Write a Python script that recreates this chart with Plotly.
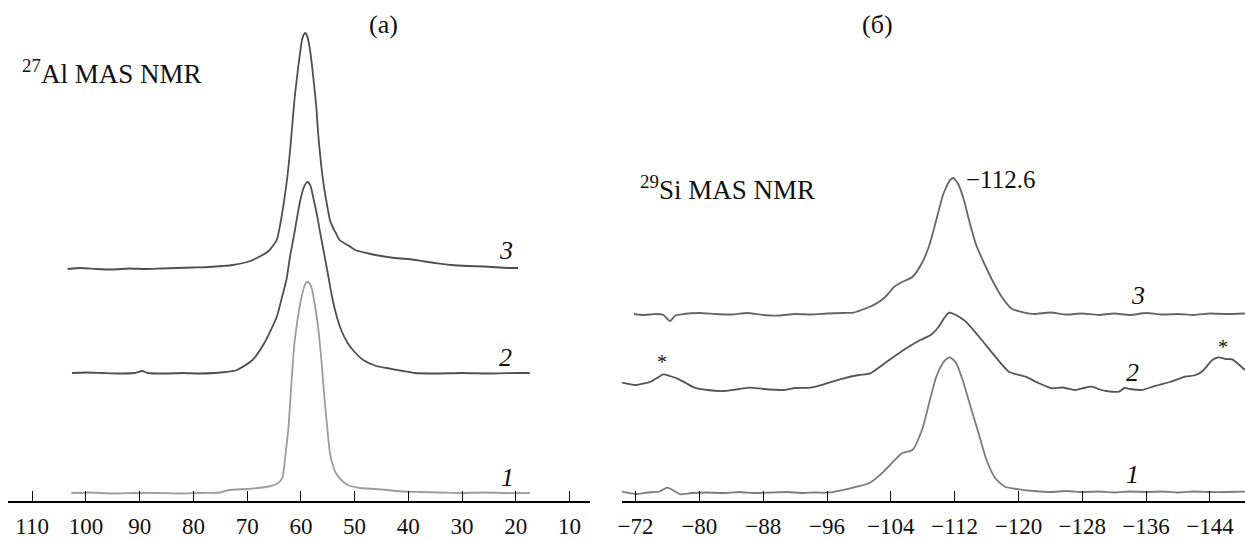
import plotly.graph_objects as go

# ---------------- (a) 27Al MAS NMR ----------------
al1_ppm = [102.7, 99, 95, 91, 87, 83, 79, 75, 73.4, 70, 68, 66, 64.5, 63.9, 63.4, 62.9, 62.3, 61.8, 61.2, 60.6,
           60.1, 59.4, 59.0, 58.7, 58.3, 57.9, 57.4, 56.8, 56.2, 55.7, 55.1, 54.6, 54.0, 53.5, 52.3, 51.3, 49,
           46.2, 44, 41, 38, 34, 30, 26, 22, 17.4]
al1_int = [8, 8.5, 7.5, 8, 8, 7.5, 8, 8.5, 11, 12, 13, 14.5, 17, 19.5, 24, 45, 74, 115, 158, 182,
           198, 214, 218.5, 219, 217, 211, 196, 174, 142, 108, 74, 48, 35, 28, 20, 16, 13,
           12, 11, 9.5, 9, 8.5, 8, 8.5, 8, 8]

al2_ppm = [102.6, 100, 97, 94, 91, 89.5, 88.5, 85, 82, 79, 76, 74, 71.9, 69, 66.8, 64.5, 63.6, 62.7, 62.0,
           61.2, 60.6, 60.1, 59.5, 59.0, 58.7, 58.2, 57.6, 57.0, 56.4, 55.7, 55, 54.3, 53.5, 52.5, 51.3, 50,
           48.4, 46, 44, 41, 38.8, 35, 30, 25, 20, 17.4]
al2_int = [128, 128.5, 128, 127.5, 128, 130, 128, 127.5, 128, 127.5, 128, 129, 131, 141, 158, 184, 202, 221, 245,
           268, 287, 301, 313, 318, 319, 315, 301, 286, 268, 248, 228, 207, 188, 171, 158, 149,
           141, 135, 133, 130, 128, 127.5, 128, 127.5, 128, 128]

al3_ppm = [103.4, 101, 98, 95, 92, 89, 86, 83, 80, 77, 74.5, 72.7, 70, 68.2, 66, 64.5, 63.8, 63.1, 62.5, 62.0,
           61.6, 61.2, 60.8, 60.5, 60.1, 59.8, 59.5, 59.2, 58.9, 58.6, 58.3, 57.9, 57.5, 57.1, 56.8, 56.3,
           55.7, 55.1, 54.6, 54.0, 53.5, 52.8, 51, 49.9, 47, 45, 42.5, 40, 37, 35, 32, 29, 26, 23, 21, 19.6]
al3_int = [232, 233, 232, 231.5, 232.5, 232, 232.5, 233, 233.5, 234, 235, 236, 239, 243, 250, 261, 278, 301, 325, 351,
           376, 401, 420, 434, 450, 461, 466, 468, 466, 460, 451, 434, 414, 392, 368, 340,
           314, 295, 281, 273, 268, 261, 255, 251, 247, 245, 243, 242, 239.5, 238, 236, 235, 234.5, 233.5, 233, 233]

al_ticks = [110, 100, 90, 80, 70, 60, 50, 40, 30, 20, 10]

# ---------------- (б) 29Si MAS NMR ----------------
si1_ppm = [-70.3, -72, -73.5, -75, -76, -77.6, -79, -81, -83, -85, -87, -89, -91, -93, -94.5, -96, -98.9,
           -101.4, -103.1, -103.9, -105.4, -106.7, -107.9, -108.9, -109.7, -110.5, -110.9, -111.4, -111.8,
           -112.2, -113, -114, -115, -116, -117.1, -118.3, -120.1, -122, -124, -126, -128, -130, -132, -134,
           -136, -138, -140, -142, -144, -146, -148.4]
si1_int = [9.3, 7, 8.5, 9.5, 13.3, 6.7, 8, 8.5, 8, 9, 8, 8.5, 9, 8, 8.5, 8.3, 12.7,
           18.3, 29.3, 36, 47.7, 51, 71, 101, 124.3, 137.7, 141.5, 143.7, 141.5,
           137.7, 121, 94.3, 67.7, 41, 22.7, 14.3, 11.7, 10, 9, 10, 9, 9.5, 8.5, 9.5,
           9, 9.5, 8.5, 9.5, 9, 9, 9.3]

si2_ppm = [-70.3, -72, -73.9, -75.5, -76.3, -77.2, -78.3, -79.3, -81, -83.1, -85, -86.4, -88, -90.6, -92,
           -93.9, -95.6, -98.1, -100, -101.4, -103.5, -105.6, -107.7, -109, -110, -110.7, -111.3, -111.9,
           -112.6, -113.4, -115.4, -117.1, -118.8, -120.9, -122.5, -124.2, -125.5, -127.1, -128.2, -129.2,
           -130.2, -131, -132.6, -133.3, -134, -135.5, -136.5, -137.6, -139, -140.9, -142, -143, -144.3,
           -145.1, -146, -146.8, -148.4]
si2_int = [118.3, 116, 119.3, 126.7, 125, 122.7, 118, 113.7, 111, 110, 112, 113.3, 112, 111, 113,
           113.3, 116.7, 122.7, 126, 127.7, 139.3, 151, 161, 166, 174.3, 183, 188.3, 187,
           184, 179.3, 161, 144.3, 129.3, 124.3, 118, 112.7, 113.5, 111, 113, 114.3,
           111.5, 110, 109.3, 113, 112, 111, 113.5, 116, 119, 124.3, 125.5, 129.3, 141,
           143.7, 142, 141.7, 131]

si3_ppm = [-71.8, -73, -74.5, -75.5, -76.3, -77, -78, -80, -82, -84, -86, -88, -90, -92, -94, -96, -98,
           -99.3, -100.3, -101.3, -102.3, -103.3, -104.4, -105.4, -106.7, -107.9, -108.8, -109.7, -110.5,
           -110.9, -111.2, -111.5, -111.8, -112.1, -112.5, -113.2, -113.8, -114.7, -115.8, -116.7, -118,
           -119.2, -120.6, -122, -124, -126, -128, -130, -132, -134, -136, -138, -140, -142, -144, -146, -148.4]
si3_int = [187, 186, 187, 186, 180, 185.5, 187, 188, 187, 186.5, 188, 186, 185.5, 187, 186.5, 187.5, 188,
           188.3, 191, 194, 198, 204, 214, 219, 224, 238, 255, 281, 305,
           313, 318, 321.5, 323, 321, 316, 300, 281, 256, 236, 221, 203,
           192, 188.7, 187, 188.5, 186.5, 187.5, 186, 187.5, 186, 188, 186.5, 187, 186, 187.5, 187, 187.5]

si_ticks = [-72, -80, -88, -96, -104, -112, -120, -128, -136, -144]
si_ticktext = ["\u2212" + str(abs(t)) for t in si_ticks]

W, H = 1245, 538
AXIS_Y = 501  # pixel row of the x axis line
FONT = "Liberation Serif, Times New Roman, serif"

fig = go.Figure()
for xs, ys, col, ax in [
    (al1_ppm, al1_int, "#9c9c9c", "x"), (al2_ppm, al2_int, "#4f4f4f", "x"), (al3_ppm, al3_int, "#4f4f4f", "x"),
    (si1_ppm, si1_int, "#7c7c7c", "x2"), (si2_ppm, si2_int, "#555555", "x2"), (si3_ppm, si3_int, "#666666", "x2"),
]:
    fig.add_trace(go.Scatter(x=xs, y=ys, mode="lines", line=dict(color=col, width=1.8, shape="spline",
                                                                    smoothing=0.6),
                             xaxis=ax, yaxis="y" if ax == "x" else "y2", showlegend=False, hoverinfo="skip"))

axis_common = dict(showline=True, linecolor="black", linewidth=1.5, ticks="inside", ticklen=10,
                   tickwidth=1.2, tickcolor="black", showgrid=False, zeroline=False, automargin=False,
                   tickfont=dict(family=FONT, size=23, color="#111"), ticklabelstandoff=4)

fig.update_layout(
    template="none",
    width=W, height=H, margin=dict(l=0, r=0, t=0, b=H - AXIS_Y, pad=0),
    paper_bgcolor="white", plot_bgcolor="white",
    font=dict(family=FONT, size=24, color="#111"),
    xaxis=dict(domain=[8 / W, 590 / W], range=[114.5, 6.2], tickvals=al_ticks, anchor="y", **axis_common),
    xaxis2=dict(domain=[622 / W, 1.0], range=[-70.3, -148.4], tickvals=si_ticks, ticktext=si_ticktext,
                anchor="y2", **axis_common),
    yaxis=dict(visible=False, range=[0, AXIS_Y], domain=[0, 1], automargin=False),
    yaxis2=dict(visible=False, range=[0, AXIS_Y], domain=[0, 1], anchor="x2", automargin=False),
)


def P(px, py):
    return px / W, (AXIS_Y - py) / AXIS_Y


def note(text, px, py, size=26, xanchor="center", italic=False):
    x, y = P(px, py)
    if italic:
        text = "<i>" + text + "</i>"
    fig.add_annotation(text=text, x=x, y=y, xref="paper", yref="paper", xanchor=xanchor, yanchor="middle",
                       showarrow=False, font=dict(family=FONT, size=size, color="#111"))


note("(a)", 383, 25)
note("(б)", 877, 25)
note("<sup>27</sup>Al MAS NMR", 20, 72, size=27, xanchor="left")
note("<sup>29</sup>Si MAS NMR", 638, 188, size=27, xanchor="left")
note("\u2212112.6", 964, 180, size=25, xanchor="left")
note("3", 506, 250, italic=True)
note("2", 505, 357, italic=True)
note("1", 507, 477, italic=True)
note("3", 1138, 295, italic=True)
note("2", 1132, 372, italic=True)
note("1", 1132, 474, italic=True)
note("*", 662, 362, size=20)
note("*", 1223, 347, size=20)

fig.write_html("out.html", config={"displayModeBar": False},
               post_script="document.body.style.margin='0';document.body.style.overflow='hidden';")
